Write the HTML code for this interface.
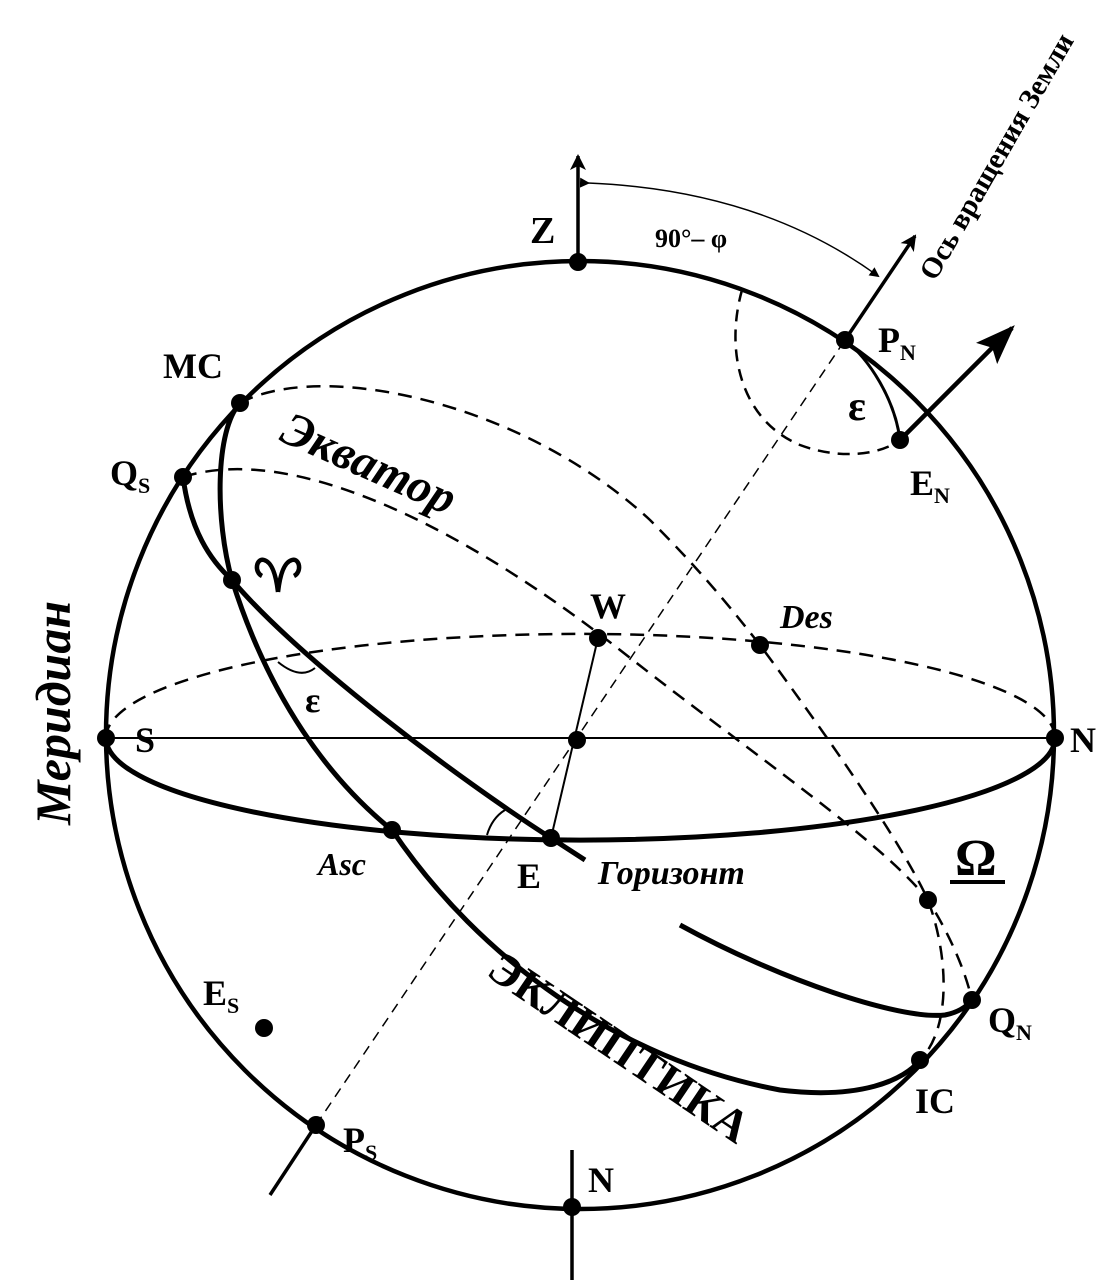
<!DOCTYPE html>
<html><head><meta charset="utf-8"><style>
html,body{margin:0;padding:0;background:#fff}
svg{display:block}
text{font-family:"Liberation Serif",serif;font-weight:bold;fill:#000}
</style></head><body>
<svg width="1120" height="1280" viewBox="0 0 1120 1280" xmlns="http://www.w3.org/2000/svg">
<defs>
<marker id="ah" markerWidth="10" markerHeight="10" refX="8" refY="5" orient="auto" markerUnits="userSpaceOnUse">
<path d="M0,0 L10,5 L0,10 Z" fill="#000"/></marker>
<marker id="ah2" markerWidth="16" markerHeight="16" refX="14" refY="8" orient="auto" markerUnits="userSpaceOnUse">
<path d="M0,0 L16,8 L0,16 L4,8 Z" fill="#000"/></marker>
<marker id="ah3" markerWidth="40" markerHeight="30" refX="36" refY="15" orient="auto" markerUnits="userSpaceOnUse">
<path d="M0,0 L40,15 L0,30 L8,15 Z" fill="#000"/></marker>
</defs>
<g fill="none" stroke="#000">
<circle cx="580" cy="735" r="474" stroke-width="4.5"/>
<path d="M106,738 A474,102 0 0 0 1055,738" stroke-width="5"/>
<path d="M106,738 A474,104 0 0 1 1055,738" stroke-width="2.5" stroke-dasharray="14,9"/>
<line x1="106" y1="738" x2="1055" y2="738" stroke-width="2"/>
<line x1="316" y1="1125" x2="845" y2="340" stroke-width="1.5" stroke-dasharray="10,7"/>
<line x1="845" y1="340" x2="915" y2="236" stroke-width="3.5" marker-end="url(#ah2)"/>
<line x1="316" y1="1125" x2="270" y2="1195" stroke-width="3.5"/>
<line x1="598" y1="638" x2="551" y2="838" stroke-width="2"/>
<line x1="578" y1="262" x2="578" y2="156" stroke-width="3.5" marker-end="url(#ah2)"/>
<path d="M588,183 Q760,190 878,276" stroke-width="1.5" marker-end="url(#ah)" marker-start="url(#ah)"/>
<line x1="572" y1="1150" x2="572" y2="1280" stroke-width="3.5"/>
<path d="M183,477 C300,440 480,540 620,650 C760,760 880,840 928,900 C950,935 965,970 972,1000" stroke-width="2.5" stroke-dasharray="14,9"/>
<path d="M183,477 C190,530 210,560 232,580 C300,660 460,780 551,838 L585,860" stroke-width="5"/>
<path d="M680,925 C780,980 900,1020 945,1015 C960,1012 968,1005 972,1000" stroke-width="5"/>
<path d="M240,403 C320,360 520,400 650,520 C710,580 740,620 760,645 C830,740 900,840 928,900 C950,960 950,1030 920,1060" stroke-width="2.5" stroke-dasharray="14,9"/>
<path d="M240,403 C215,430 215,520 232,580 C270,700 330,780 392,830 C480,960 620,1060 780,1090 C860,1100 905,1080 920,1060" stroke-width="5"/>
<path d="M742,290 C725,350 740,420 800,445 C840,460 880,455 900,440" stroke-width="2.5" stroke-dasharray="12,8"/>
<path d="M845,340 C870,360 895,400 900,440" stroke-width="3"/>
<line x1="900" y1="440" x2="1012" y2="328" stroke-width="4.5" marker-end="url(#ah3)"/>
<path d="M278,662 Q300,680 315,668" stroke-width="2"/>
<path d="M487,835 Q492,818 505,810" stroke-width="2"/>
<!-- aries symbol -->
<path d="M278,592 C276,575 272,562 264,560 C256,558 254,572 262,576 M278,592 C280,575 284,562 292,560 C300,558 302,572 294,576" stroke-width="4.5"/>
</g>
<g fill="#000">
<circle cx="578" cy="262" r="9"/><circle cx="845" cy="340" r="9"/><circle cx="900" cy="440" r="9"/>
<circle cx="240" cy="403" r="9"/><circle cx="183" cy="477" r="9"/><circle cx="232" cy="580" r="9"/>
<circle cx="598" cy="638" r="9"/><circle cx="760" cy="645" r="9"/><circle cx="106" cy="738" r="9"/>
<circle cx="1055" cy="738" r="9"/><circle cx="577" cy="740" r="9"/><circle cx="392" cy="830" r="9"/>
<circle cx="551" cy="838" r="9"/><circle cx="928" cy="900" r="9"/><circle cx="972" cy="1000" r="9"/>
<circle cx="920" cy="1060" r="9"/><circle cx="264" cy="1028" r="9"/><circle cx="316" cy="1125" r="9"/>
<circle cx="572" cy="1207" r="9"/>
</g>
<text x="530" y="243" font-size="38">Z</text>
<text x="163" y="378" font-size="36">MC</text>
<text x="110" y="485" font-size="36">Q<tspan font-size="22" dy="8">S</tspan></text>
<text x="0" y="0" font-size="48" font-style="italic" transform="translate(278,440) rotate(24)">Экватор</text>
<text x="0" y="0" font-size="50" font-style="italic" transform="translate(70,825) rotate(-90)">Меридиан</text>
<text x="590" y="618" font-size="36">W</text>
<text x="780" y="628" font-size="34" font-style="italic">Des</text>
<text x="135" y="752" font-size="36">S</text>
<text x="1070" y="752" font-size="36">N</text>
<text x="305" y="712" font-size="36">ε</text>
<text x="318" y="875" font-size="32" font-style="italic">Asc</text>
<text x="517" y="888" font-size="36">E</text>
<text x="598" y="884" font-size="34" font-style="italic">Горизонт</text>
<text x="955" y="875" font-size="52">Ω</text>
<rect x="950" y="880" width="55" height="4" fill="#000"/>
<text x="0" y="0" font-size="46" font-weight="normal" transform="translate(485,975) rotate(34)">ЭКЛИПТИКА</text>
<text x="988" y="1032" font-size="36">Q<tspan font-size="22" dy="8">N</tspan></text>
<text x="915" y="1113" font-size="36">IC</text>
<text x="203" y="1005" font-size="36">E<tspan font-size="22" dy="8">S</tspan></text>
<text x="343" y="1152" font-size="36">P<tspan font-size="22" dy="8">S</tspan></text>
<text x="588" y="1192" font-size="36">N</text>
<text x="878" y="352" font-size="36">P<tspan font-size="22" dy="8">N</tspan></text>
<text x="910" y="495" font-size="36">E<tspan font-size="22" dy="8">N</tspan></text>
<text x="848" y="420" font-size="42">ε</text>
<text x="655" y="247" font-size="26" font-weight="normal">90°– φ</text>
<text x="0" y="0" font-size="29" transform="translate(935,282) rotate(-60)">Ось вращения Земли</text>
</svg>
</body></html>
